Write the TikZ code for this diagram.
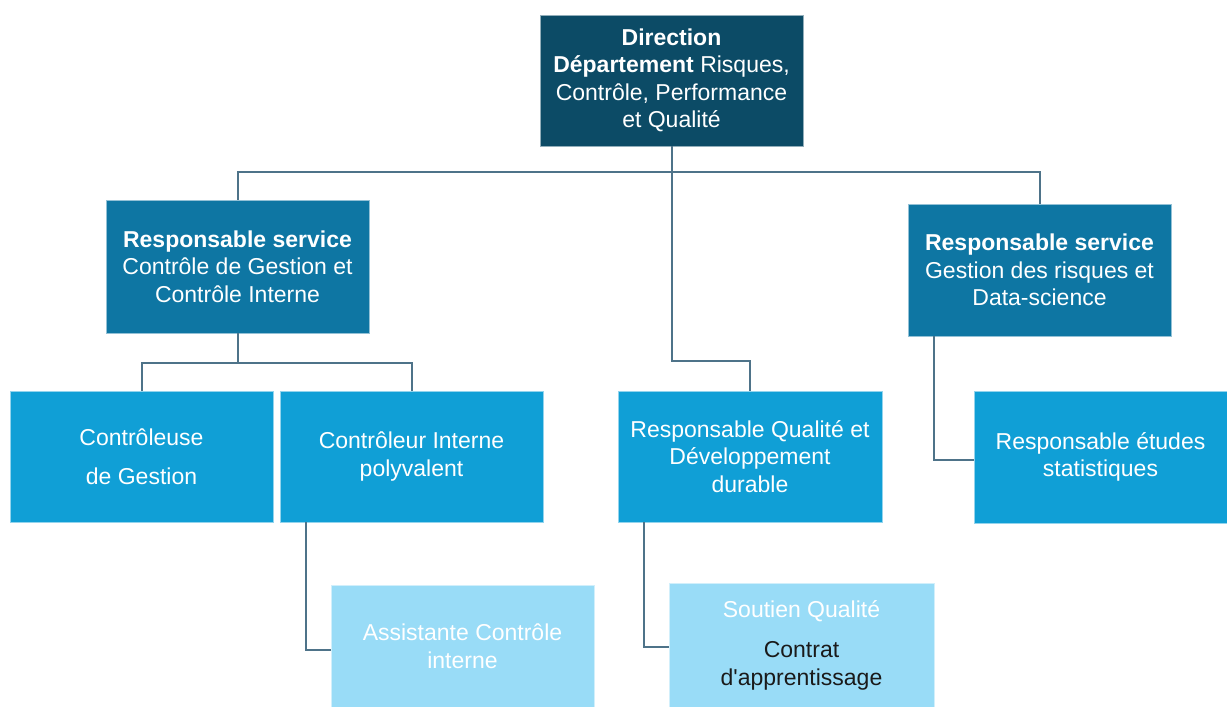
\documentclass[tikz,border=0pt]{standalone}
\usepackage{fontspec}
\setmainfont{Liberation Sans}
\definecolor{cdir}{HTML}{0C4B66}
\definecolor{crs}{HTML}{0E76A3}
\definecolor{cmid}{HTML}{109FD6}
\definecolor{clight}{HTML}{99DCF7}
\definecolor{cline}{HTML}{4E7389}
\definecolor{ctxt}{HTML}{1A1A1A}
\begin{document}
\begin{tikzpicture}[x=1pt,y=-1pt,
  box/.style={rectangle, draw=white!55!#1, line width=0.8pt, fill=#1, text=white, align=center,
    minimum width=263pt, inner sep=0pt, font=\fontsize{23}{27.5}\selectfont},
  conn/.style={draw=cline, line width=2pt}]
\useasboundingbox (0,0) rectangle (1227,707);
\node[box=cdir, minimum height=131pt] (dir) at (671.5,80.5)
  {\textbf{Direction}\\\textbf{Département} Risques,\\Contrôle, Performance\\et Qualité};
\node[box=crs, minimum height=133pt] (rs1) at (237.5,266.5)
  {\textbf{Responsable service}\\Contrôle de Gestion et\\Contrôle Interne};
\node[box=crs, minimum height=132pt] (rs2) at (1039.5,270)
  {\textbf{Responsable service}\\Gestion des risques et\\Data-science};
\node[box=cmid, minimum height=131pt] (cg) at (141.5,456.5)
  {Contrôleuse\\[11pt]de Gestion};
\node[box=cmid, minimum height=131pt] (ci) at (411.5,456.5)
  {Contrôleur Interne\\polyvalent};
\node[box=cmid, minimum height=131pt, minimum width=264pt] (rq) at (750,456.5)
  {Responsable Qualité et\\Développement\\durable};
\node[box=cmid, minimum height=132pt, minimum width=253pt] (re) at (1100.5,457)
  {Responsable études\\statistiques};
\node[box=clight, minimum height=122pt] (aci) at (462.5,646)
  {Assistante Contrôle\\interne};
\node[box=clight, minimum height=124pt, minimum width=265pt] (sq) at (801.5,645)
  {Soutien Qualité\\[13pt]\textcolor{ctxt}{Contrat}\\\textcolor{ctxt}{d\textquotesingle apprentissage}};
\coordinate (j1) at (671.5,172);
\coordinate (j2) at (671.5,361);
\coordinate (j3) at (237.5,363);
\draw[conn] (dir.south) -- (j1) -| (rs1.north);
\draw[conn] (j1) -| (rs2.north);
\draw[conn] (j1) -- (j2) -| (rq.north);
\draw[conn] (rs1.south) -- (j3) -| (cg.north);
\draw[conn] (j3) -| (ci.north);
\draw[conn] ([xshift=26pt]ci.south west) |- ([yshift=-4pt]aci.west);
\draw[conn] ([xshift=26pt]rq.south west) |- ([yshift=-2pt]sq.west);
\draw[conn] ([xshift=26pt]rs2.south west) |- ([yshift=-3pt]re.west);
\end{tikzpicture}
\end{document}
